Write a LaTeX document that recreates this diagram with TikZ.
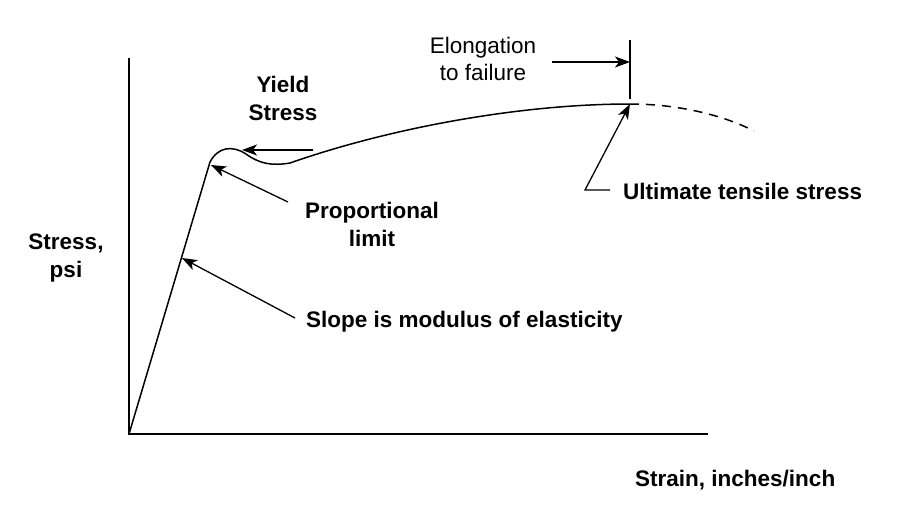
\documentclass[tikz,border=0pt]{standalone}
\usepackage{fontspec}
\setmainfont{Liberation Sans}
\usetikzlibrary{arrows.meta}

\begin{document}
\begin{tikzpicture}[x=1pt,y=-1pt,
  lbl/.style={inner sep=0pt,font=\fontsize{22.5}{28}\selectfont\bfseries},
  curve/.style={line width=1.5pt},
  pointer/.style={line width=1.3pt,-{Stealth[length=15pt,width=11pt,inset=4pt]}}]
\useasboundingbox (0,0) rectangle (900,530);
% axes
\coordinate (origin) at (129,434);
\draw[line width=2.4pt] (129,58) -- (origin) -- (708,434);
% stress-strain curve
\coordinate (prop) at (210,162);
\coordinate (uts) at (630,104);
\draw[curve,line join=round] (origin) -- (prop)
  .. controls (218,147) and (232,145) .. (246,154)
  .. controls (260,164) and (272,166) .. (290,163)
  .. controls (390,128) and (520,104) .. (uts);
\draw[curve,dash pattern=on 9pt off 7pt] (uts) .. controls (680,104) and (725,116) .. (754,131);
% labels (base = last line)
\node[lbl,align=center,anchor=base] (yield) at (283,120) {Yield\\Stress};
\node[lbl,align=center,anchor=base,font=\fontsize{22.5}{27}\selectfont] (elong) at (483,80) {Elongation\\to failure};
\node[lbl,align=center,anchor=base] (proplbl) at (372,246) {Proportional\\limit};
\node[lbl,align=center,anchor=base] (stress) at (66,277) {Stress,\\psi};
\node[lbl,anchor=base west] (slope) at (306,327) {Slope is modulus of elasticity};
\node[lbl,anchor=base west] (ultimate) at (623,199) {Ultimate tensile stress};
\node[lbl,anchor=base west] (strain) at (635,486) {Strain, inches/inch};
% pointers
\coordinate (yieldtail) at (313,150);
\coordinate (yieldtip) at (242,150);
\draw[pointer] (yieldtail) -- (yieldtip);
\coordinate (proptail) at (288,202);
\draw[pointer] (proptail) -- (211,165);
\coordinate (slopetail) at (295,318);
\coordinate (slopetip) at (182,258);
\draw[pointer] (slopetail) -- (slopetip);
\coordinate (utsbend) at (585,190);
\draw[pointer] (ultimate.west |- utsbend) ++(-13,0) -- (utsbend) -- (uts);
\coordinate (elongtick) at (630,62);
\draw[line width=1.5pt] (630,40) -- (630,99);
\draw[pointer] (552,62) -- (elongtick);
\end{tikzpicture}
\end{document}
